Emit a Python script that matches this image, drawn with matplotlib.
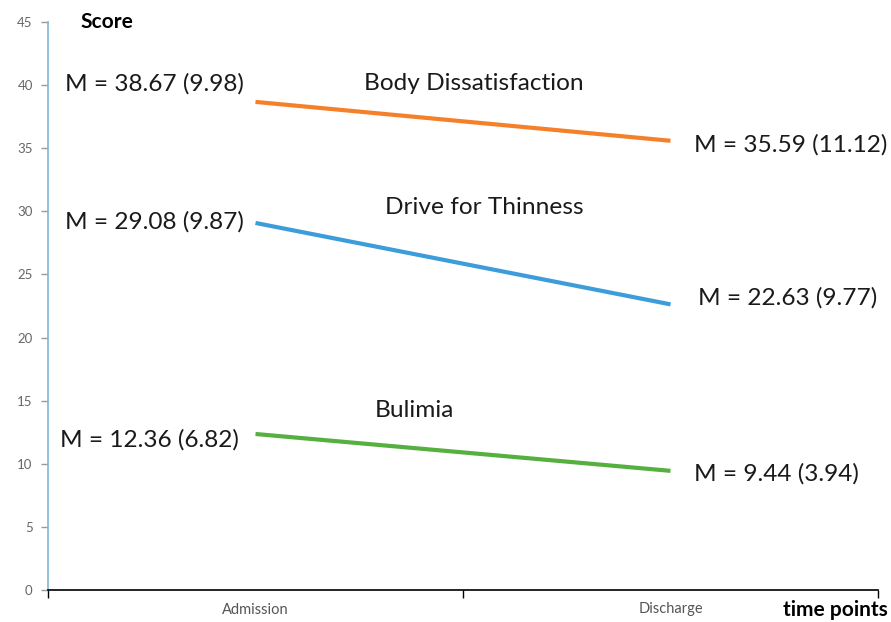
import matplotlib
matplotlib.use("Agg")
import matplotlib.pyplot as plt

time_points = ["Admission", "Discharge"]
series_names = ["Body Dissatisfaction", "Drive for Thinness", "Bulimia"]
admission_means = [38.67, 29.08, 12.36]
admission_sds = [9.98, 9.87, 6.82]
discharge_means = [35.59, 22.63, 9.44]
discharge_sds = [11.12, 9.77, 3.94]
y_ticks = [0, 5, 10, 15, 20, 25, 30, 35, 40, 45]

colors = ["#F5802A", "#3D9DDA", "#55B03F"]
# label offsets in pixels (style only)
left_off = [(-12, 18), (-12, 1), (-17, -6)]
right_off = [(24, -4), (28, 7), (23, -3)]
name_off = [(11, 38), (21, 56), (-49, 42)]

FONT = ["Lato", "DejaVu Sans"]
FS = 17.6
fig = plt.figure(figsize=(8.91, 6.22), dpi=100)
W, H = 891, 622
ax = fig.add_axes([48 / W, 1 - 590 / H, (878 - 48) / W, (590 - 22) / H])

xpos = [0.5, 1.5]
for i, name in enumerate(series_names):
    ys = [admission_means[i], discharge_means[i]]
    ax.plot(xpos, ys, color=colors[i], lw=3, solid_capstyle="butt")
    ax.annotate(f"M = {admission_means[i]:.2f} ({admission_sds[i]:.2f})",
                xy=(xpos[0], ys[0]), xytext=left_off[i], textcoords="offset pixels",
                ha="right", va="center", fontsize=FS, family=FONT, color="#1a1a1a")
    ax.annotate(f"M = {discharge_means[i]:.2f} ({discharge_sds[i]:.2f})",
                xy=(xpos[1], ys[1]), xytext=right_off[i], textcoords="offset pixels",
                ha="left", va="center", fontsize=FS, family=FONT, color="#1a1a1a")
    ax.annotate(name, xy=(1.0, (ys[0] + ys[1]) / 2), xytext=name_off[i],
                textcoords="offset pixels", ha="center", va="center",
                fontsize=FS, family=FONT, color="#1a1a1a")

ax.set_xlim(0, 2)
ax.set_ylim(0, 45)
ax.set_yticks(y_ticks)
ax.set_yticklabels([str(t) for t in y_ticks], fontsize=9.5, color="#666666", family=FONT)
ax.set_xticks([0, 1, 2])
ax.set_xticklabels([])
ax.set_xticks(xpos, minor=True)
ax.set_xticklabels(time_points, minor=True, fontsize=10.5, color="#555555", family=FONT)
ax.tick_params(axis="x", which="minor", length=0, pad=9)
ax.tick_params(axis="x", which="major", length=6, width=1, color="black", direction="out")
ax.tick_params(axis="y", length=5, width=1, color="#999999", pad=6)

for s in ["top", "right"]:
    ax.spines[s].set_visible(False)
ax.spines["left"].set_color("#7DB6D6")
ax.spines["left"].set_linewidth(1.2)
ax.spines["bottom"].set_color("black")
ax.spines["bottom"].set_linewidth(1.2)

fig.text(80 / W, 1 - 22 / H, "Score", fontsize=15, fontweight="bold", family=FONT,
         ha="left", va="center")
fig.text(888 / W, 1 - 610 / H, "time points", fontsize=15, fontweight="bold", family=FONT,
         ha="right", va="center")

fig.savefig("out.png", dpi=100)
